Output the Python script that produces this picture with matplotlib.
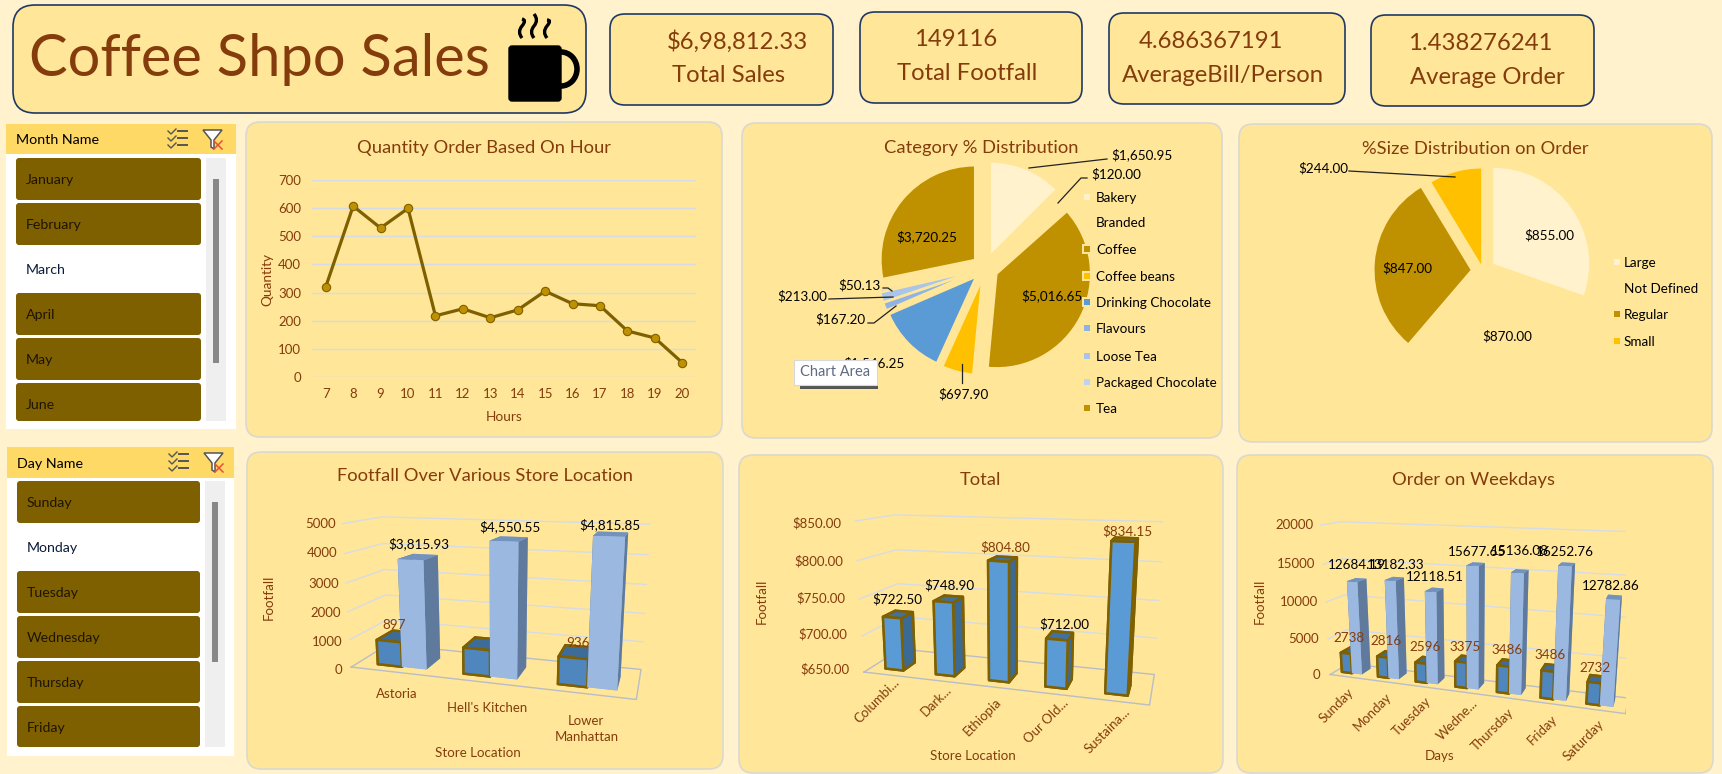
from matplotlib import pyplot as plt
from matplotlib.patches import FancyBboxPatch, Rectangle, Arc, PathPatch, Polygon
from matplotlib.path import Path

plt.rcParams['font.family'] = ['Lato', 'DejaVu Sans']

W, H = 1722, 774

# Colours
BG = '#FFF2CC'
PANEL = '#FFE699'
HEADER = '#FFD966'
BROWN = '#843C0C'
OLIVE = '#7F6000'
GOLD = '#BF9000'
AMBER = '#FFC000'
BLUE = '#5B9BD5'
GRID = '#D6DCE5'

# KPI cards
kpi_values = ['$6,98,812.33', '149116', '4.686367191', '1.438276241']
kpi_names = ['Total Sales', 'Total Footfall', 'AverageBill/Person', 'Average Order']

# Slicers
months = ['January', 'February', 'March', 'April', 'May', 'June']
days_slicer = ['Sunday', 'Monday', 'Tuesday', 'Wednesday', 'Thursday', 'Friday']

# Quantity by hour
hours = [7, 8, 9, 10, 11, 12, 13, 14, 15, 16, 17, 18, 19, 20]
quantity = [320, 608, 530, 600, 217, 242, 210, 238, 305, 260, 253, 163, 138, 50]

# Category pie
categories = ['Bakery', 'Branded', 'Coffee', 'Coffee beans', 'Drinking Chocolate',
              'Flavours', 'Loose Tea', 'Packaged Chocolate', 'Tea']
category_sales = [1650.95, 120.00, 5016.65, 697.90, 1546.25, 167.20, 213.00, 50.13, 3720.25]

# Size pie
sizes = ['Large', 'Not Defined', 'Regular', 'Small']
size_orders = [855, 870, 847, 244]

# Store bars
stores = ['Astoria', "Hell's Kitchen", 'Lower\nManhattan']
store_footfall = [897, 920, 936]
store_sales = [3815.93, 4550.55, 4815.85]

# Total bars
product_names = ['Columbi...', 'Dark...', 'Ethiopia', 'Our Old...', 'Sustaina...']
product_total = [722.50, 748.90, 804.80, 712.00, 834.15]

# Weekday bars
weekdays = ['Sunday', 'Monday', 'Tuesday', 'Wedne...', 'Thursday', 'Friday', 'Saturday']
day_footfall = [2738, 2816, 2596, 3375, 3486, 3486, 2732]
day_sales = [12684.19, 13182.33, 12118.51, 15677.65, 15136.08, 16252.76, 12782.86]


def rect(l, t, r, b):
    return [l / W, 1 - b / H, (r - l) / W, (b - t) / H]


fig = plt.figure(figsize=(W / 100, H / 100), dpi=100, facecolor=BG)

# Background layer in pixels
bg = fig.add_axes([0, 0, 1, 1], zorder=0)
bg.set_xlim(0, W)
bg.set_ylim(H, 0)
bg.axis('off')

# Text layer in pixels
ov = fig.add_axes([0, 0, 1, 1], zorder=20)
ov.set_xlim(0, W)
ov.set_ylim(H, 0)
ov.axis('off')
ov.patch.set_alpha(0)


def box(a, l, t, r, b, fc=PANEL, ec='#DAD9D0', lw=1.2, rad=14, z=1):
    a.add_patch(FancyBboxPatch((l, t), r - l, b - t, boxstyle=f'round,pad=0,rounding_size={rad}',
                               fc=fc, ec=ec, lw=lw, zorder=z))


def txt(x, y, s, size=9, color='black', **kw):
    kw.setdefault('ha', 'center')
    kw.setdefault('va', 'center')
    ov.text(x, y + 1, s, fontsize=size, color=color, zorder=5, **kw)


# Header cards
box(bg, 13, 5, 586, 113, ec='#1F3864', rad=22)
txt(259, 58, 'Coffee Shpo Sales', size=41.7, color=BROWN, ha='center')
bg.add_patch(FancyBboxPatch((509, 46), 52, 55, boxstyle='round,pad=0,rounding_size=3', fc='black', ec='black', zorder=3))
bg.add_patch(Arc((561, 69), 32, 34, theta1=-90, theta2=90, ec='black', lw=4, zorder=3))
for sx, tp in ((522, 19), (534, 14), (547, 20)):
    sp = Path([(sx, 38), (sx - 5, 32), (sx, 26), (sx + 5, 20), (sx, tp)],
              [Path.MOVETO, Path.CURVE3, Path.CURVE3, Path.CURVE3, Path.CURVE3])
    bg.add_patch(PathPatch(sp, fc='none', ec='black', lw=2.4, zorder=3))

card_boxes = [(610, 14, 833, 105), (860, 12, 1082, 103), (1109, 13, 1345, 104), (1371, 15, 1594, 106)]
value_xy = [(737, 41), (956, 39), (1211, 41), (1480, 43)]
name_xy = [(729, 75), (967, 72), (1223, 74), (1487, 76)]
for c, v, n, vxy, nxy in zip(card_boxes, kpi_values, kpi_names, value_xy, name_xy):
    box(bg, *c, ec='#1F3864', rad=15)
    txt(*vxy, v, size=17.2, color=BROWN)
    txt(*nxy, n, size=17.2, color=BROWN)


# Slicers
def check_icon(x, y):
    for dy in (0, 7, 14):
        ov.plot([x, x + 3, x + 8], [y + dy + 1, y + dy + 4, y + dy - 1], color='#555555', lw=1)
        ov.plot([x + 10, x + 19], [y + dy + 1, y + dy + 1], color='#555555', lw=1.4)


def funnel_icon(x, y):
    ov.add_patch(Polygon([(x, y), (x + 19, y), (x + 11, y + 10), (x + 11, y + 19), (x + 8, y + 17), (x + 8, y + 10)],
                         closed=True, fc='white', ec='#555555', lw=1.1))
    ov.plot([x + 11, x + 19], [y + 11, y + 19], color='#E8503A', lw=1.1)
    ov.plot([x + 19, x + 11], [y + 11, y + 19], color='#E8503A', lw=1.1)


def slicer(frame, header_b, title, items, tops, selected, x0, x1, track, thumb, clip_b):
    l, t, r, b = frame
    bg.add_patch(Rectangle((l, t), r - l, b - t, fc='white', ec='none', zorder=1))
    bg.add_patch(Rectangle((l, t), r - l, header_b - t, fc=HEADER, ec='none', zorder=2))
    txt(l + 10, (t + header_b) / 2, title, size=10.3, ha='left')
    check_icon(l + 162, t + 6)
    funnel_icon(l + 197, t + 6)
    for name, top in zip(items, tops):
        bot = min(top + 42, clip_b)
        if name != selected:
            bg.add_patch(FancyBboxPatch((x0, top), x1 - x0, bot - top, boxstyle='round,pad=0,rounding_size=3',
                                        fc=OLIVE, ec='none', zorder=2))
        txt(x0 + 10, top + 21, name, size=10.2, ha='left', color='#0B1B3A' if name == selected else '#1E1400')
    bg.add_patch(Rectangle((track[0], track[1]), track[2] - track[0], track[3] - track[1], fc='#EFEFEF', ec='none', zorder=2))
    bg.add_patch(Rectangle((thumb[0], thumb[1]), thumb[2] - thumb[0], thumb[3] - thumb[1], fc='#888888', ec='none', zorder=3))


slicer((6, 124, 236, 429), 154, 'Month Name', months, [158, 203, 248, 293, 338, 383], 'March',
       16, 201, (206, 158, 226, 421), (213, 179, 219, 363), 421)
slicer((7, 447, 234, 756), 478, 'Day Name', days_slicer, [481, 526, 571, 616, 661, 706], 'Monday',
       17, 200, (205, 481, 225, 747), (212, 502, 218, 662), 747)

# Panels
box(bg, 246, 122, 722, 437)
box(bg, 742, 123, 1222, 438)
box(bg, 1239, 124, 1712, 442)
box(bg, 247, 452, 723, 769)
box(bg, 739, 455, 1223, 773)
box(bg, 1237, 455, 1713, 773)

txt(484, 147, 'Quantity Order Based On Hour', size=13.2, color=BROWN)
txt(981, 147, 'Category % Distribution', size=13.2, color=BROWN)
txt(1475, 148, '%Size Distribution on Order', size=13.2, color=BROWN)
txt(485, 475, 'Footfall Over Various Store Location', size=13.2, color=BROWN)
txt(980, 479, 'Total', size=13.2, color=BROWN)
txt(1474, 479, 'Order on Weekdays', size=13.2, color=BROWN)

# Line chart
ax = fig.add_axes(rect(312, 180.3, 696, 376.7), zorder=5)
ax.patch.set_alpha(0)
ax.plot(hours, quantity, color=OLIVE, lw=2.3, marker='o', ms=6, mfc=GOLD, mec=OLIVE, mew=0.8, zorder=3)
ax.set_xlim(6.5, 20.5)
ax.set_ylim(0, 700)
ax.set_xticks(hours)
ax.set_yticks(range(0, 701, 100))
ax.tick_params(length=0, labelsize=9.5, labelcolor=BROWN, pad=8)
ax.grid(axis='y', color=GRID, lw=1)
ax.set_axisbelow(True)
for s in ax.spines.values():
    s.set_visible(False)
txt(267, 278, 'Quantity', size=9.8, color=BROWN, rotation=90)
txt(504, 416, 'Hours', size=9.8, color=BROWN)


# Pies
def pie(center, r, values, colors, explode, edge=None):
    span = 1.6
    cx, cy = center
    a = fig.add_axes(rect(cx - span * r, cy - span * r, cx + span * r, cy + span * r), zorder=5)
    wp = dict(edgecolor=edge, linewidth=1.2) if edge else None
    a.pie(values, colors=colors, explode=explode, startangle=90, counterclock=False, radius=1, wedgeprops=wp)
    a.set_xlim(-span, span)
    a.set_ylim(-span, span)
    a.patch.set_alpha(0)


pie((985, 268), 94, category_sales,
    ['#FFF2CC', PANEL, GOLD, AMBER, BLUE, '#8FB4E3', '#A9C5EA', '#BDD3F0', GOLD], [0.14] * 9, edge=PANEL)
pie((1483, 271), 96, size_orders, ['#FFF2CC', PANEL, GOLD, AMBER], [0.13, 0.13, 0.13, 0.07])

cat_label_xy = [(1142, 154), (1116, 173), (1052, 295), (963, 393), (874, 362), (840, 318), (802, 295), (859, 284), (927, 236)]
for (x, y), v in zip(cat_label_xy, category_sales):
    txt(x, y, f'${v:,.2f}', size=9.7)
size_label_xy = [(1549, 234), (1507, 335), (1407, 267), (1323, 167)]
for (x, y), v in zip(size_label_xy, size_orders):
    txt(x, y, f'${v:,.2f}', size=9.7)

leaders = [
    [(1029, 168), (1107, 159)],
    [(1058, 203), (1081, 178), (1087, 178)],
    [(883, 288), (888, 288), (892, 291)],
    [(829, 299), (893, 297)],
    [(868, 323), (874, 323), (896, 306)],
    [(962, 364), (962, 383)],
    [(1349, 171), (1455, 177)],
]
for seg in leaders:
    ov.plot([p[0] for p in seg], [p[1] for p in seg], color='#222222', lw=0.9)

cat_colors = ['#FFF2CC', PANEL, GOLD, AMBER, BLUE, '#8FB4E3', '#A9C5EA', '#BDD3F0', GOLD]
for name, col, y in zip(categories, cat_colors, [197, 222, 249, 276, 302, 328, 356, 382, 408]):
    ov.add_patch(Rectangle((1082, y - 5), 10, 10, fc=PANEL, ec='none', zorder=3))
    ov.add_patch(Rectangle((1084, y - 3), 6, 6, fc=col, ec='none', zorder=4))
    txt(1096, y, name, size=9.7, ha='left')
for name, col, y in zip(sizes, ['#FFF2CC', PANEL, GOLD, AMBER], [262, 288, 314, 341]):
    ov.add_patch(Rectangle((1614, y - 3), 6, 6, fc=col, ec='none', zorder=4))
    txt(1624, y, name, size=9.7, ha='left')

# Chart Area tooltip
ov.add_patch(Rectangle((800, 367), 78, 22, fc='#555555', ec='none', zorder=6))
ov.add_patch(Rectangle((794, 360), 83, 25, fc='white', ec='#D8D8D8', lw=0.8, zorder=7))
ov.text(835, 372, 'Chart Area', fontsize=10.5, color='#5F6B80', ha='center', va='center', zorder=8)


# 3D bars
DARK_FACES = ['#4F86BD', '#3E6C99', '#4F86BD', '#3E6C99', '#3E6C99', '#3E6C99']
BLUE_FACES = [BLUE, '#41719C', BLUE, BLUE, '#3B6A94', '#3B6A94']
LIGHT_FACES = ['#9AB8E0', '#7393BC', '#9AB8E0', '#9AB8E0', '#5F7A9C', '#5F7A9C']


def frame3d(box_px, ncat, z0, z1, zstep, aspect, zoom=1.0, focal=0.33, elev=13, azim=-73):
    a = fig.add_axes(rect(*box_px), projection='3d', computed_zorder=False, zorder=6)
    a.set_axis_off()
    a.patch.set_alpha(0)
    a.set_proj_type('persp', focal_length=focal)
    a.view_init(elev=elev, azim=azim)
    a.set_box_aspect(aspect, zoom=zoom)
    a.set_xlim(0, ncat)
    a.set_ylim(0, 1)
    a.set_zlim(z0, z1)
    t = z0 + zstep
    while t <= z1:
        a.plot([0, 0, ncat], [0, 1, 1], [t, t, t], color=GRID, lw=1, zorder=1)
        t += zstep
    a.plot([0, ncat, ncat, 0, 0], [0, 0, 1, 1, 0], [z0] * 5, color='#B9BDC6', lw=1, zorder=1)
    return a


# Store location
a1 = frame3d((258, 444, 724, 761), 3, 0, 5000, 1000, (1000, 280, 515), zoom=1.02)
for i, (f, s) in enumerate(zip(store_footfall, store_sales)):
    a1.bar3d(i + 0.23, 0.2, 0, 0.29, 0.45, f, color=DARK_FACES, shade=False, edgecolor=OLIVE, linewidth=1.8, zorder=2 + 2 * i)
    a1.bar3d(i + 0.52, 0.2, 0, 0.29, 0.45, s, color=LIGHT_FACES, shade=False, edgecolor='none', zorder=3 + 2 * i)

# Total
a2 = frame3d((762, 445, 1246, 763), 5, 650, 850, 50, (1000, 280, 540), zoom=1.03)
for i, v in enumerate(product_total):
    a2.bar3d(i + 0.28, 0.2, 650, 0.36, 0.33, v - 650, color=BLUE_FACES, shade=False, edgecolor=OLIVE, linewidth=1.8, zorder=2 + i)

# Weekdays
a3 = frame3d((1229, 455, 1705, 773), 7, 0, 20000, 5000, (1060, 130, 550), zoom=1.08, elev=14, azim=-71)
for i, (f, s) in enumerate(zip(day_footfall, day_sales)):
    a3.bar3d(i + 0.17, 0.3, 0, 0.28, 0.5, f, color=DARK_FACES, shade=False, edgecolor=OLIVE, linewidth=1.8, zorder=2 + 2 * i)
    a3.bar3d(i + 0.45, 0.3, 0, 0.28, 0.5, s, color=LIGHT_FACES, shade=False, edgecolor='none', zorder=3 + 2 * i)


def z(ox, oy, x, y):
    return ox + x / 3, oy + y / 3


# Store labels
for s, p in zip(['5000', '4000', '3000', '2000', '1000', '0'],
                [(243, 233), (247, 322), (252, 413), (257, 500), (262, 587), (296, 671)]):
    txt(*z(240, 445, *p), s, size=9.5, color=BROWN)
for s, p in zip(stores, [(471, 744), (741, 786), (1039, 848)]):
    txt(*z(240, 445, *p), s, size=9.5, color=BROWN, linespacing=1.4)
txt(*z(240, 445, 714, 920), 'Store Location', size=9.6, color=BROWN)
txt(*z(240, 445, 86, 453), 'Footfall', size=9.6, color=BROWN, rotation=90)
txt(*z(240, 445, 462, 536), str(store_footfall[0]), size=9.7, color=BROWN)
txt(*z(240, 445, 1013, 590), str(store_footfall[2]), size=9.7, color=BROWN)
for v, p in zip(store_sales, [(535, 292), (810, 241), (1111, 235)]):
    txt(*z(240, 445, *p), f'${v:,.2f}', size=9.7)

# Total labels
for s, p in zip(['$850.00', '$800.00', '$750.00', '$700.00', '$650.00'],
                [(247, 231), (253, 345), (259, 456), (265, 564), (271, 669)]):
    txt(*z(735, 445, *p), s, size=9.5, color=BROWN)
for s, p in zip(product_names, [(425, 765), (605, 765), (743, 812), (933, 825), (1117, 853)]):
    txt(*z(735, 445, *p), s, size=9.5, color=BROWN, rotation=45)
txt(*z(735, 445, 715, 929), 'Store Location', size=9.6, color=BROWN)
txt(*z(735, 445, 79, 465), 'Footfall', size=9.6, color=BROWN, rotation=90)
for v, p, c in zip(product_total, [(486, 460), (644, 418), (811, 305), (988, 535), (1178, 257)],
                   ['black', 'black', BROWN, 'black', BROWN]):
    txt(*z(735, 445, *p), f'${v:,.2f}', size=9.7, color=c)

# Weekday labels
for s, p in zip(['20000', '15000', '10000', '5000', '0'],
                [(193, 237), (199, 354), (206, 467), (221, 579), (258, 686)]):
    txt(*z(1230, 445, *p), s, size=9.5, color=BROWN)
for s, p in zip(weekdays, [(320, 780), (428, 798), (544, 812), (683, 822), (788, 850), (938, 852), (1060, 882)]):
    txt(*z(1230, 445, *p), s, size=9.5, color=BROWN, rotation=45)
txt(*z(1230, 445, 629, 930), 'Days', size=9.6, color=BROWN)
txt(*z(1230, 445, 88, 465), 'Footfall', size=9.6, color=BROWN, rotation=90)
for v, p in zip(day_footfall, [(356, 575), (468, 586), (585, 604), (704, 602), (830, 613), (961, 628), (1096, 665)]):
    txt(*z(1230, 445, *p), str(v), size=9.7, color=BROWN)
for v, p in zip(day_sales, [(382, 358), (497, 356), (616, 392), (740, 317), (870, 314), (1004, 319), (1142, 419)]):
    txt(*z(1230, 445, *p), f'{v:.2f}', size=9.7)

fig.savefig('out.png', dpi=100, facecolor=BG)
